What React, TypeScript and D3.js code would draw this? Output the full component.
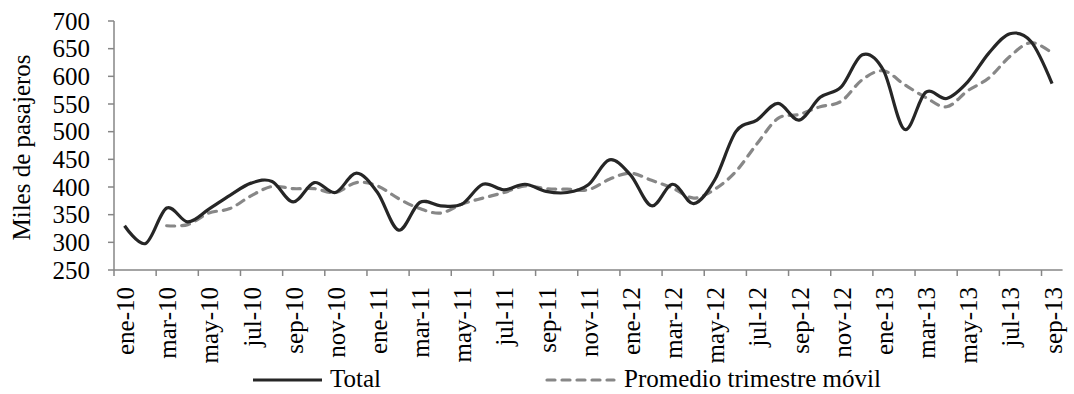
import React from "react";
import * as d3 from "d3";

// Monthly passenger counts (thousands), ene-10 .. sep-13
const monthNames = ["ene", "feb", "mar", "abr", "may", "jun", "jul", "ago", "sep", "oct", "nov", "dic"];
const years = ["10", "11", "12", "13"];
const months: string[] = [];
years.forEach((yy) => monthNames.forEach((m) => months.push(`${m}-${yy}`)));
const categories = months.slice(0, 45);

const total = [
  330, 298, 362, 337, 360, 385, 407, 410, 373, 408, 390, 425,
  390, 322, 372, 366, 369, 405, 395, 405, 392, 390, 404, 449,
  422, 366, 405, 370, 413, 500, 521, 551, 521, 562, 581, 639,
  611, 504, 571, 560, 590, 642, 677, 663, 587,
];

// Three-month moving average (first value at mar-10)
const promedio: (number | null)[] = [
  null, null, 330, 332, 353, 361, 384, 401, 397, 397, 390, 408,
  402, 379, 361, 353, 369, 380, 390, 402, 397, 396, 395, 414,
  425, 412, 398, 380, 396, 428, 478, 524, 531, 545, 555, 594,
  610, 585, 562, 545, 574, 597, 636, 661, 642,
];

const yTicks = [250, 300, 350, 400, 450, 500, 550, 600, 650, 700];
const tickLabels = categories.filter((_, i) => i % 2 === 0);

const W = 1074;
const H = 394;
const FONT = "'Liberation Serif', 'Times New Roman', serif";
const AXIS = "#868686";

export default function App() {
  const x = d3.scaleBand<string>().domain(categories).range([114, 114 + 45 * 21.08]).padding(0);
  const bw = x.bandwidth();
  const cx = (c: string) => (x(c) as number) + bw / 2;
  const y = d3.scaleLinear().domain([250, 700]).range([270, 21]);

  const curve = d3.curveCatmullRom.alpha(0);
  const lineTotal = d3
    .line<number>()
    .x((_, i) => cx(categories[i]))
    .y((d) => y(d))
    .curve(curve);
  const lineProm = d3
    .line<number | null>()
    .defined((d) => d !== null)
    .x((_, i) => cx(categories[i]))
    .y((d) => y(d as number))
    .curve(curve);

  const [x0, x1] = x.range();
  const boundaryTicks = d3.range(0, categories.length, 2).map((i) => x(categories[i]) as number);

  return (
    <svg
      width={W}
      height={H}
      style={{ position: "absolute", left: 0, top: 0, background: "#fff" }}
      fontFamily={FONT}
    >
      {/* y axis */}
      <line x1={x0} x2={x0} y1={y(700)} y2={y(250)} stroke={AXIS} strokeWidth={1.5} />
      {yTicks.map((t) => (
        <g key={t}>
          <line x1={x0 - 6} x2={x0} y1={y(t)} y2={y(t)} stroke={AXIS} strokeWidth={1.5} />
          <text x={90} y={y(t)} textAnchor="end" dominantBaseline="central" fontSize={25} fill="#000">
            {t}
          </text>
        </g>
      ))}
      <text
        transform={`translate(30,${(y(700) + y(250)) / 2 + 2}) rotate(-90)`}
        textAnchor="middle"
        fontSize={25}
        fill="#000"
      >
        Miles de pasajeros
      </text>

      {/* x axis */}
      <line x1={x0} x2={x1} y1={y(250)} y2={y(250)} stroke={AXIS} strokeWidth={1.5} />
      {boundaryTicks.map((bx, i) => (
        <line key={i} x1={bx} x2={bx} y1={y(250)} y2={y(250) + 6} stroke={AXIS} strokeWidth={1.5} />
      ))}
      {tickLabels.map((c) => (
        <text
          key={c}
          transform={`translate(${cx(c) + 1},${y(250) + 17}) rotate(-90)`}
          textAnchor="end"
          dominantBaseline="central"
          fontSize={25}
          fill="#000"
        >
          {c}
        </text>
      ))}

      {/* series */}
      <path d={lineProm(promedio) || ""} fill="none" stroke="#878787" strokeWidth={3.2} strokeDasharray="8,7" strokeLinecap="round" />
      <path d={lineTotal(total) || ""} fill="none" stroke="#262626" strokeWidth={3.2} strokeLinejoin="round" />

      {/* legend */}
      <line x1={253} x2={322} y1={380} y2={380} stroke="#262626" strokeWidth={3.2} />
      <text x={330} y={387} fontSize={25} fill="#000">Total</text>
      <line x1={547} x2={614} y1={380} y2={380} stroke="#878787" strokeWidth={3.2} strokeDasharray="8,7" strokeLinecap="round" />
      <text x={624} y={387} fontSize={25} fill="#000">Promedio trimestre móvil</text>
    </svg>
  );
}
